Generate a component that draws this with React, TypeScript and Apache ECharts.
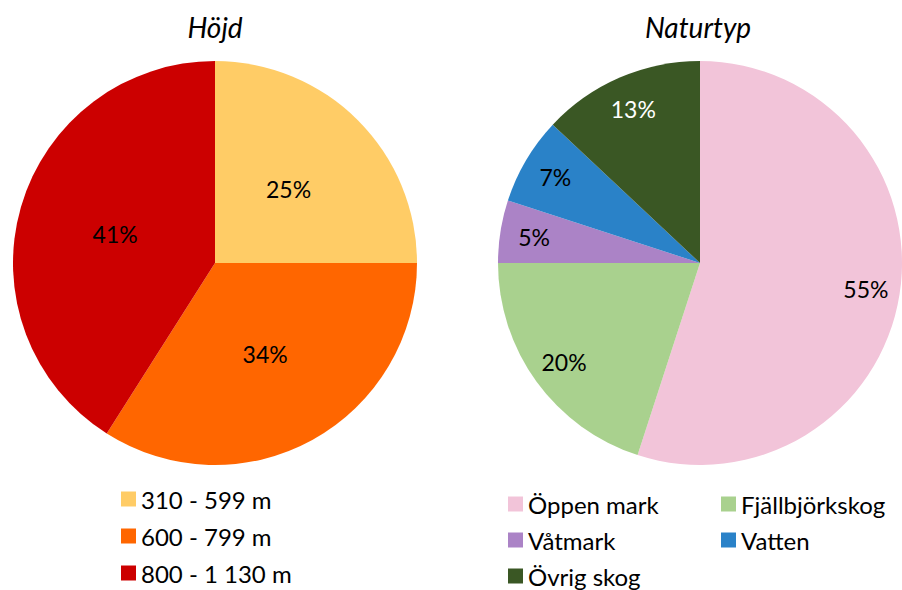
import React, { useEffect, useRef } from "react";
import * as echarts from "echarts";

const heightTitle = "Höjd";
const heightCats = ["310 - 599 m", "600 - 799 m", "800 - 1 130 m"];
const heightValues = [25, 34, 41];
const heightColors = ["#FFCC66", "#FF6600", "#CC0000"];

const natureTitle = "Naturtyp";
const natureCats = ["Öppen mark", "Fjällbjörkskog", "Våtmark", "Vatten", "Övrig skog"];
const natureValues = [55, 20, 5, 7, 13];
const natureColors = ["#F2C4D9", "#A9D18E", "#AB83C6", "#2A82C8", "#3A5724"];
const natureLabelColors = ["#000", "#000", "#000", "#000", "#fff"];

const FONT = "Lato, 'Open Sans', sans-serif";

export default function App() {
  const ref = useRef<HTMLDivElement>(null);
  useEffect(() => {
    const chart = echarts.init(ref.current!, null, { renderer: "svg" });
    const leftCenter = [215, 263];
    const rightCenter = [700, 263];
    const R = 202;
    const legendText = { fontFamily: FONT, fontSize: 24, color: "#000", lineHeight: 24 };
    chart.setOption({
      animation: false,
      backgroundColor: "#fff",
      textStyle: { fontFamily: FONT },
      graphic: [
        {
          type: "text",
          x: 215,
          y: 27,
          style: {
            text: heightTitle,
            textAlign: "center",
            textVerticalAlign: "middle",
            font: `italic 28px ${FONT}`,
            fill: "#000",
          },
        },
        {
          type: "text",
          x: 698,
          y: 27,
          style: {
            text: natureTitle,
            textAlign: "center",
            textVerticalAlign: "middle",
            font: `italic 28px ${FONT}`,
            fill: "#000",
          },
        },
      ],
      legend: [
        {
          orient: "vertical",
          left: 121,
          top: 487,
          padding: 0,
          itemWidth: 15,
          itemHeight: 15,
          itemGap: 13,
          icon: "rect",
          selectedMode: false,
          textStyle: legendText,
          data: heightCats,
        },
        {
          orient: "vertical",
          left: 508,
          top: 492,
          padding: 0,
          itemWidth: 15,
          itemHeight: 15,
          itemGap: 12,
          icon: "rect",
          selectedMode: false,
          textStyle: legendText,
          data: [natureCats[0], natureCats[2], natureCats[4]],
        },
        {
          orient: "vertical",
          left: 721,
          top: 492,
          padding: 0,
          itemWidth: 15,
          itemHeight: 15,
          itemGap: 12,
          icon: "rect",
          selectedMode: false,
          textStyle: legendText,
          data: [natureCats[1], natureCats[3]],
        },
      ],
      series: [
        {
          type: "pie",
          center: leftCenter,
          radius: [0, R],
          startAngle: 90,
          clockwise: true,
          silent: true,
          emphasis: { disabled: true },
          itemStyle: { borderWidth: 0 },
          label: {
            show: true,
            position: "inside",
            formatter: "{c}%",
            fontFamily: FONT,
            fontSize: 23,
            color: "#000",
          },
          labelLine: { show: false },
          data: heightCats.map((n, i) => ({
            name: n,
            value: heightValues[i],
            itemStyle: { color: heightColors[i] },
          })),
        },
        {
          type: "pie",
          center: rightCenter,
          radius: [0, R],
          startAngle: 90,
          clockwise: true,
          silent: true,
          emphasis: { disabled: true },
          itemStyle: { borderWidth: 0 },
          label: { show: false },
          labelLine: { show: false },
          data: natureCats.map((n, i) => ({
            name: n,
            value: natureValues[i],
            itemStyle: { color: natureColors[i] },
          })),
        },
        {
          type: "pie",
          center: rightCenter,
          radius: [128, R],
          startAngle: 90,
          clockwise: true,
          silent: true,
          emphasis: { disabled: true },
          itemStyle: { color: "rgba(0,0,0,0)", borderWidth: 0 },
          label: {
            show: true,
            position: "inside",
            formatter: "{c}%",
            fontFamily: FONT,
            fontSize: 23,
          },
          labelLine: { show: false },
          data: natureCats.map((n, i) => ({
            name: "lbl" + i,
            value: natureValues[i],
            label: { color: natureLabelColors[i] },
          })),
        },
      ],
    });
    return () => chart.dispose();
  }, []);
  return (
    <div style={{ position: "absolute", left: 0, top: 0, width: 902, height: 590, background: "#fff" }}>
      <div ref={ref} style={{ width: 902, height: 590 }} />
    </div>
  );
}
